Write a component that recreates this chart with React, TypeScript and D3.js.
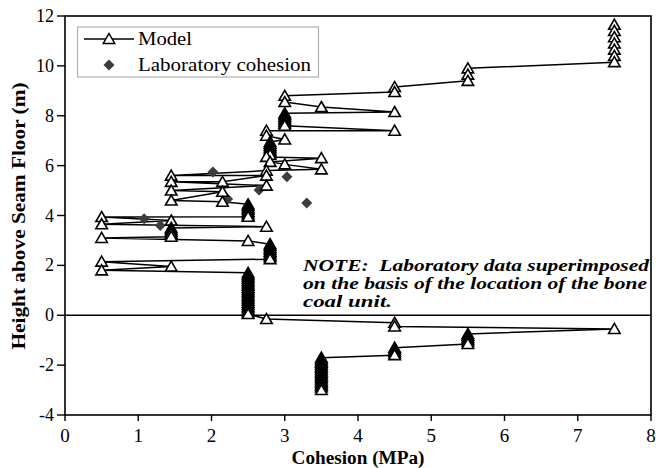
import React from "react";
import * as d3 from "d3";

// Model profile (cohesion MPa, height m), traced top to bottom
const modelCohesion = [
  7.5, 7.5, 7.5, 7.5, 7.5, 7.5, 7.5,
  5.5, 5.5, 5.5,
  4.5, 4.5,
  3.0, 3.0,
  3.5,
  4.5,
  3.0, 3.0, 3.0, 3.0, 3.0, 3.0, 3.0, 3.0,
  4.5,
  2.75, 2.75,
  3.0,
  2.8, 2.8, 2.8, 2.8, 2.8, 2.8, 2.8, 2.8, 2.75,
  3.5,
  2.8,
  3.0,
  3.5,
  2.75,
  1.45,
  2.75,
  2.15,
  1.45,
  2.75,
  1.45,
  2.15,
  1.45,
  2.15,
  2.5, 2.5, 2.5, 2.5, 2.5, 2.5, 2.5, 2.5,
  0.5,
  1.45,
  0.5,
  2.75,
  1.45, 1.45, 1.45, 1.45, 1.45,
  0.5,
  2.5,
  2.8, 2.8, 2.8, 2.8, 2.8, 2.8, 2.8, 2.8, 2.8,
  0.5,
  1.45,
  0.5,
  2.5, 2.5, 2.5, 2.5, 2.5, 2.5, 2.5, 2.5, 2.5, 2.5, 2.5, 2.5,
  2.5, 2.5, 2.5, 2.5, 2.5, 2.5, 2.5, 2.5, 2.5, 2.5, 2.5,
  2.75,
  4.5, 4.5,
  7.5,
  5.5, 5.5, 5.5, 5.5, 5.5, 5.5,
  4.5, 4.5, 4.5, 4.5, 4.5,
  3.5, 3.5, 3.5, 3.5, 3.5, 3.5, 3.5, 3.5, 3.5, 3.5,
  3.5, 3.5, 3.5, 3.5, 3.5, 3.5, 3.5, 3.5, 3.5, 3.5,
];
const modelHeight = [
  11.65, 11.4, 11.15, 10.9, 10.65, 10.4, 10.15,
  9.9, 9.65, 9.4,
  9.15, 8.95,
  8.8, 8.55,
  8.35,
  8.15,
  8.1, 8.03, 7.96, 7.89, 7.82, 7.75, 7.68, 7.6,
  7.4,
  7.4, 7.2,
  7.05,
  6.95, 6.88, 6.8, 6.73, 6.65, 6.58, 6.5, 6.43, 6.35,
  6.3,
  6.15,
  6.05,
  5.85,
  5.8,
  5.6,
  5.6,
  5.35,
  5.35,
  5.2,
  5.0,
  4.95,
  4.6,
  4.55,
  4.45, 4.38, 4.3, 4.23, 4.15, 4.08, 4.0, 3.95,
  3.94,
  3.8,
  3.65,
  3.55,
  3.5, 3.42, 3.35, 3.27, 3.15,
  3.1,
  2.98,
  2.85, 2.78, 2.7, 2.63, 2.55, 2.48, 2.4, 2.33, 2.25,
  2.15,
  1.95,
  1.8,
  1.7, 1.62, 1.55, 1.48, 1.4, 1.33, 1.25, 1.18, 1.1, 1.03, 0.95, 0.88,
  0.8, 0.73, 0.65, 0.58, 0.5, 0.43, 0.35, 0.28, 0.2, 0.12, 0.05,
  -0.15,
  -0.3, -0.45,
  -0.55,
  -0.75, -0.82, -0.9, -0.97, -1.05, -1.15,
  -1.3, -1.37, -1.45, -1.52, -1.6,
  -1.7, -1.77, -1.84, -1.9, -1.97, -2.04, -2.1, -2.17, -2.24, -2.3,
  -2.37, -2.44, -2.5, -2.57, -2.64, -2.7, -2.77, -2.84, -2.9, -3.0,
];

// Laboratory cohesion measurements
const labCohesion = [2.02, 3.03, 2.65, 2.22, 3.3, 1.08, 1.3];
const labHeight = [5.74, 5.55, 5.02, 4.66, 4.5, 3.87, 3.6];

const xTicks = [0, 1, 2, 3, 4, 5, 6, 7, 8];
const yTicks = [-4, -2, 0, 2, 4, 6, 8, 10, 12];

const noteLines = [
  "NOTE:  Laboratory data superimposed",
  "on the basis of the location of the bone",
  "coal unit.",
];

const W = 656;
const H = 468;
const L = 65;
const R = 651;
const T = 16;
const B = 415;
const SERIF = "'Liberation Serif', 'Times New Roman', Times, serif";

const triPath = (cx: number, cy: number) =>
  `M${cx},${cy - 5.5}L${cx + 5.75},${cy + 4.5}L${cx - 5.75},${cy + 4.5}Z`;
const diaPath = (cx: number, cy: number) =>
  `M${cx},${cy - 5.5}L${cx + 5.5},${cy}L${cx},${cy + 5.5}L${cx - 5.5},${cy}Z`;

export default function App() {
  const x = d3.scaleLinear().domain([0, 8]).range([L, R]);
  const y = d3.scaleLinear().domain([-4, 12]).range([B, T]);

  const pts = modelCohesion.map((c, i) => [x(c), y(modelHeight[i])] as [number, number]);
  const line = d3.line()(pts) || "";
  const txt: React.CSSProperties = { fontFamily: SERIF, whiteSpace: "pre" };

  return (
    <svg width={W} height={H} style={{ position: "absolute", left: 0, top: 0, background: "#fff" }}>
      <rect x={0} y={0} width={W} height={H} fill="#fff" />
      {/* zero line */}
      <line x1={L} x2={R} y1={y(0)} y2={y(0)} stroke="#000" strokeWidth={1.5} />
      {/* model line */}
      <path d={line} fill="none" stroke="#000" strokeWidth={1.5} strokeLinejoin="round" />
      {/* lab diamonds */}
      {labCohesion.map((c, i) => (
        <path key={"d" + i} d={diaPath(x(c), y(labHeight[i]))} fill="#3d3d3d" />
      ))}
      {/* triangles */}
      {pts.map((p, i) => (
        <path key={"t" + i} d={triPath(p[0], p[1])} fill="#fff" stroke="#000" strokeWidth={1.6} strokeLinejoin="miter" />
      ))}
      {/* frame */}
      <rect x={L} y={T} width={R - L} height={B - T} fill="none" stroke="#000" strokeWidth={1.6} />
      {/* ticks */}
      {xTicks.map((t) => (
        <g key={"x" + t}>
          <line x1={x(t)} x2={x(t)} y1={B} y2={B + 6} stroke="#000" strokeWidth={1.4} />
          <text x={x(t)} y={442} textAnchor="middle" style={txt} fontSize={19}>
            {t}
          </text>
        </g>
      ))}
      {yTicks.map((t) => (
        <g key={"y" + t}>
          <line x1={L - 8} x2={L} y1={y(t)} y2={y(t)} stroke="#000" strokeWidth={1.4} />
          <text x={54} y={y(t) + 6} textAnchor="end" style={txt} fontSize={18}>
            {t}
          </text>
        </g>
      ))}
      {/* axis titles */}
      <text x={(L + R) / 2} y={464} textAnchor="middle" style={txt} fontSize={18} fontWeight="bold" textLength={133} lengthAdjust="spacingAndGlyphs">
        Cohesion (MPa)
      </text>
      <text transform={`translate(25,216) rotate(-90)`} textAnchor="middle" style={txt} fontSize={18} fontWeight="bold" textLength={267} lengthAdjust="spacingAndGlyphs">
        Height above Seam Floor (m)
      </text>
      {/* legend */}
      <rect x={77.5} y={27} width={241} height={50} fill="#fff" stroke="#b0b0b0" strokeWidth={1.2} />
      <line x1={84} x2={134} y1={39} y2={39} stroke="#000" strokeWidth={1.5} />
      <path d={triPath(109, 39)} fill="#fff" stroke="#000" strokeWidth={1.5} />
      <text x={138} y={45} style={txt} fontSize={18} textLength={54} lengthAdjust="spacingAndGlyphs">
        Model
      </text>
      <path d={diaPath(109, 65)} fill="#3d3d3d" />
      <text x={138} y={70.5} style={txt} fontSize={18} textLength={173} lengthAdjust="spacingAndGlyphs">
        Laboratory cohesion
      </text>
      {/* note */}
      {noteLines.map((s, i) => (
        <text key={"n" + i} x={303} y={[270.5, 289, 306.5][i]} style={txt} fontSize={17} fontWeight="bold" fontStyle="italic" textLength={[346, 344, 89][i]} lengthAdjust="spacingAndGlyphs">
          {s}
        </text>
      ))}
    </svg>
  );
}
